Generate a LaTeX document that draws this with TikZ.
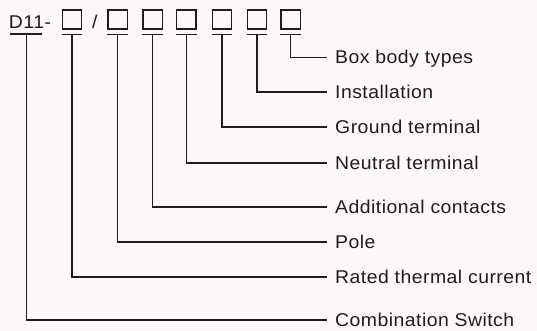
\documentclass[tikz,border=0pt]{standalone}
\usepackage{fontspec}
\setmainfont{Liberation Sans}[LetterSpace=2.5, FakeStretch=1.05]
\definecolor{paper}{RGB}{253,249,249}
\definecolor{inkgray}{RGB}{30,28,28}
\begin{document}
\begin{tikzpicture}[
        x=1pt, y=-1pt,
        line width=1.4pt,
        draw=inkgray,
        every node/.style={font=\fontsize{18.5}{22}\selectfont, text=inkgray},
        slot/.style={draw=inkgray, line width=1.3pt, minimum width=19.5pt, minimum height=19pt, inner sep=0pt},
        itemtext/.style={anchor=west, inner xsep=7.5pt, inner ysep=0pt, text height=12.8pt, text depth=0pt}
    ]
    % Background
    \fill[paper] (0,0) rectangle (537,331);
    \useasboundingbox (0,0) rectangle (537,331);

    % Type code: D11- [ ] / [ ] [ ] [ ] [ ] [ ] [ ]
    \node[anchor=base west, inner sep=0pt] (code) at (8.3,28.3) {D11-};
    \node[anchor=base west, inner sep=0pt] (slash) at (91.5,28.3) {/};
    \node[slot] (b1) at (72,19.5) {};
    \node[slot] (b2) at (117.7,19.5) {};
    \node[slot] (b3) at (152.7,19.5) {};
    \node[slot] (b4) at (186.3,19.5) {};
    \node[slot] (b5) at (222,19.5) {};
    \node[slot] (b6) at (257,19.5) {};
    \node[slot] (b7) at (290.7,19.5) {};

    % Underlines
    \coordinate (u0) at (26.3,34);
    \draw (10,34) -- (42,34);
    \foreach \b in {b1,b2,b3,b4,b5,b6,b7}
        \draw ([yshift=-5pt]\b.south west) -- ([yshift=-5pt]\b.south east);

    % Labels
    \node[itemtext] (t7) at (327,57.5) {Box body types};
    \node[itemtext] (t6) at (327,92) {Installation};
    \node[itemtext] (t5) at (327,127) {Ground terminal};
    \node[itemtext] (t4) at (327,163) {Neutral terminal};
    \node[itemtext] (t3) at (327,207) {Additional contacts};
    \node[itemtext] (t2) at (327,242) {Pole};
    \node[itemtext] (t1) at (327,277) {Rated thermal current};
    \node[itemtext] (t0) at (327,320) {Combination Switch};

    % Leaders
    \draw (u0) |- (t0.west);
    \draw ([yshift=-5pt]b1.south) |- (t1.west);
    \draw ([yshift=-5pt]b2.south) |- (t2.west);
    \draw ([yshift=-5pt]b3.south) |- (t3.west);
    \draw ([yshift=-5pt]b4.south) |- (t4.west);
    \draw ([yshift=-5pt]b5.south) |- (t5.west);
    \draw ([yshift=-5pt]b6.south) |- (t6.west);
    \draw ([yshift=-5pt]b7.south) |- (t7.west);
\end{tikzpicture}
\end{document}
